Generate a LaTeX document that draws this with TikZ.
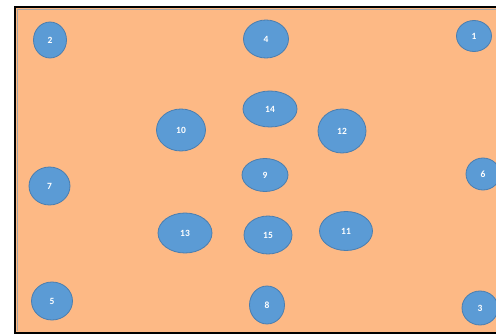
\documentclass[tikz,border=0pt]{standalone}
\usepackage{fontspec}
\setmainfont{Carlito}
\usetikzlibrary{shapes.geometric}
\definecolor{bgorange}{HTML}{FDB985}
\definecolor{nodeblue}{HTML}{5B9BD5}
\definecolor{nodeedge}{HTML}{4A7EB0}
\tikzset{
  blob/.style={ellipse, fill=nodeblue, draw=nodeedge, line width=0.8pt, inner sep=0pt,
    text=white, font=\bfseries\fontsize{9.5}{10}\selectfont},
}
\begin{document}
\begin{tikzpicture}[x=1pt,y=-1pt]
\useasboundingbox (0,0) rectangle (496,334);
\fill[white] (0,0) rectangle (496,334);
\fill[bgorange] (16,8) rectangle (497,332);
\draw[gray!70, line width=0.8pt] (17.5,9.5) -- (497,9.5);
\draw[gray!70, line width=0.8pt] (17.5,9.5) -- (17.5,331);
\draw[black, line width=1.6pt] (497,7) -- (15,7) -- (15,333) -- (497,333);
\node[blob, minimum width=33pt, minimum height=36pt] (n2) at (50,40) {2};
\node[blob, minimum width=45pt, minimum height=38pt] (n4) at (266,39) {4};
\node[blob, minimum width=35pt, minimum height=31pt] (n1) at (474,36) {1};
\node[blob, minimum width=54pt, minimum height=36pt] (n14) at (270,109) {14};
\node[blob, minimum width=49pt, minimum height=42pt] (n10) at (181,130) {10};
\node[blob, minimum width=48pt, minimum height=44pt] (n12) at (342,131) {12};
\node[blob, minimum width=46pt, minimum height=33pt] (n9) at (265,175) {9};
\node[blob, minimum width=41pt, minimum height=38pt] (n7) at (49.5,186) {7};
\node[blob, minimum width=34pt, minimum height=32pt] (n6) at (483,174) {6};
\node[blob, minimum width=54pt, minimum height=40pt] (n13) at (185,233) {13};
\node[blob, minimum width=48pt, minimum height=38pt] (n15) at (268,235) {15};
\node[blob, minimum width=53pt, minimum height=39pt] (n11) at (346,231) {11};
\node[blob, minimum width=41pt, minimum height=38pt] (n5) at (52,301) {5};
\node[blob, minimum width=35pt, minimum height=38pt] (n8) at (267,305) {8};
\node[blob, minimum width=36pt, minimum height=34pt] (n3) at (480,308) {3};
\end{tikzpicture}
\end{document}
